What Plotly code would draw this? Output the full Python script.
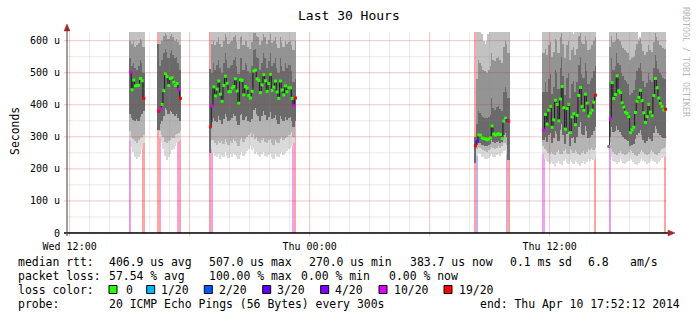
import numpy as np
import pandas as pd
import plotly.graph_objects as go

# ---------------- data (values in microseconds) ----------------
x_start = "2014-04-09 11:52:12"
x_end = "2014-04-10 17:52:12"
y_top = 627

x_tick_vals = ["2014-04-09 12:00", "2014-04-10 00:00", "2014-04-10 12:00"]
x_tick_text = ["Wed 12:00", "Thu 00:00", "Thu 12:00"]
y_tick_vals = [0, 100, 200, 300, 400, 500, 600]
y_tick_text = ["0", "100 u", "200 u", "300 u", "400 u", "500 u", "600 u"]

seg_starts = ["2014-04-09 15:00", "2014-04-09 16:25", "2014-04-09 19:00",
              "2014-04-10 08:15", "2014-04-10 11:40", "2014-04-10 14:55"]

seg1_median = [502, 447, 477, 459, 460, 461, 482, 475, 420]
seg1_loss = [10, 0, 0, 0, 0, 0, 0, 0, 19]
seg1_lo = [288, 268, 252, 238, 230, 236, 248, 262, 282]
seg1_lo2 = [318, 300, 292, 286, 282, 290, 296, 300, 305]
seg1_lo1 = [372, 360, 352, 348, 356, 350, 362, 370, 380]
seg1_hi1 = [545, 520, 530, 515, 510, 520, 540, 530, 500]
seg1_hi2 = [600, 590, 598, 580, 585, 592, 605, 600, 580]
seg1_top = [700, 700, 700, 700, 700, 700, 700, 700, 700]

seg2_median = [380, 387, 401, 444, 497, 488, 460, 482, 484, 471, 460, 466, 447, 420]
seg2_loss = [19, 10, 0, 0, 0, 0, 0, 0, 0, 0, 0, 0, 10, 19]
seg2_lo = [320, 296, 282, 262, 240, 228, 236, 246, 258, 262, 270, 280, 288, 292]
seg2_lo2 = [320, 318, 305, 298, 285, 280, 288, 290, 300, 296, 305, 310, 312, 318]
seg2_lo1 = [320, 340, 350, 365, 390, 385, 370, 380, 378, 372, 366, 372, 360, 350]
seg2_hi1 = [590, 520, 540, 560, 575, 565, 545, 560, 570, 555, 545, 550, 530, 510]
seg2_hi2 = [590, 590, 600, 615, 625, 618, 605, 615, 620, 610, 600, 605, 595, 585]
seg2_top = [590, 700, 700, 700, 700, 700, 700, 700, 700, 700, 700, 700, 700, 700]

seg3_median = [331, 396, 456, 428, 449, 474, 433, 411, 460, 489, 467, 441, 441, 452,
               457, 481, 443, 405, 478, 476, 431, 457, 452, 429, 421, 442, 505, 508,
               481, 476, 438, 462, 494, 475, 442, 466, 495, 445, 455, 474, 440, 420,
               474, 446, 431, 459, 441, 453, 453, 420, 397, 421]
seg3_loss = [19, 10] + [0] * 48 + [10, 19]
seg3_lo = [249, 262, 250, 240, 236, 248, 232, 244, 238, 252, 240, 234, 246, 238, 250,
           242, 236, 230, 244, 252, 240, 248, 256, 262, 270, 258, 266, 248, 254, 242,
           238, 246, 252, 240, 236, 244, 250, 238, 232, 246, 240, 236, 248, 254, 244,
           250, 256, 262, 266, 270, 282, 349]
seg3_lo2 = [249, 290, 290, 282, 276, 288, 280, 286, 278, 292, 284, 276, 288, 282, 294,
            286, 280, 272, 290, 296, 284, 292, 300, 306, 312, 300, 310, 294, 298, 288,
            282, 290, 296, 284, 280, 290, 294, 282, 276, 290, 284, 280, 292, 298, 290,
            296, 300, 306, 310, 316, 300, 349]
seg3_lo1 = [249, 345, 360, 350, 345, 365, 352, 340, 356, 372, 362, 350, 352, 360, 372,
            364, 350, 338, 368, 372, 352, 362, 364, 350, 345, 356, 385, 390, 372, 366,
            350, 364, 380, 368, 352, 362, 378, 356, 360, 368, 354, 340, 366, 356, 348,
            362, 352, 360, 362, 350, 330, 349]
seg3_hi1 = [512, 500, 530, 510, 525, 540, 515, 500, 530, 560, 540, 515, 520, 525, 540,
            550, 520, 495, 545, 545, 510, 530, 525, 505, 500, 520, 570, 575, 550, 545,
            510, 530, 560, 545, 515, 535, 560, 520, 530, 545, 515, 500, 545, 520, 505,
            530, 515, 525, 525, 505, 470, 480]
seg3_hi2 = [512, 590, 600, 585, 595, 610, 590, 580, 600, 620, 610, 590, 595, 600, 612,
            618, 596, 575, 610, 615, 585, 600, 598, 580, 575, 595, 625, 625, 615, 610,
            585, 600, 620, 610, 590, 602, 620, 592, 600, 612, 590, 578, 610, 595, 580,
            600, 590, 596, 598, 585, 570, 600]
seg3_top = [512] + [700] * 51

seg4_median = [272, 286, 306, 305, 297, 295, 294, 291, 293, 297, 334, 309, 305, 308,
               309, 307, 295, 349, 358, 351, 349]
seg4_loss = [19, 3, 0, 0, 0, 0, 0, 0, 0, 0, 0, 0, 0, 0, 0, 0, 0, 0, 0, 3, 19]
seg4_lo = [219, 240, 250, 245, 238, 236, 232, 230, 235, 240, 245, 238, 236, 242, 246,
           240, 250, 255, 258, 248, 228]
seg4_lo2 = [219, 262, 268, 266, 262, 258, 255, 254, 258, 262, 268, 264, 262, 266, 270,
            264, 272, 280, 282, 276, 228]
seg4_lo1 = [219, 275, 282, 280, 276, 274, 272, 270, 274, 278, 290, 284, 280, 284, 286,
            282, 284, 305, 312, 300, 228]
seg4_hi1 = [300, 340, 380, 375, 368, 362, 360, 358, 362, 368, 420, 390, 385, 392, 395,
            388, 380, 440, 455, 440, 420]
seg4_hi2 = [300, 480, 540, 530, 520, 510, 505, 500, 510, 520, 560, 540, 535, 545, 548,
            540, 530, 580, 600, 590, 560]
seg4_top = [300, 640, 700, 660, 620, 600, 590, 600, 620, 640, 700, 700, 680, 700, 660,
            640, 700, 700, 700, 700, 700]

seg5_median = [321, 370, 340, 383, 395, 330, 353, 414, 401, 350, 418, 457, 391, 324,
               388, 401, 313, 362, 372, 338, 367, 429, 454, 395, 383, 433, 405, 365,
               374, 383, 408, 430]
seg5_loss = [10] + [0] * 30 + [19]
seg5_lo = [245, 232, 226, 220, 216, 222, 214, 210, 218, 226, 214, 212, 224, 230, 218,
           214, 228, 222, 216, 226, 220, 214, 210, 218, 224, 216, 222, 230, 226, 232,
           228, 234]
seg5_lo2 = [270, 262, 256, 250, 248, 254, 246, 244, 252, 258, 248, 246, 256, 262, 250,
            248, 262, 256, 250, 258, 252, 246, 244, 250, 256, 248, 254, 262, 258, 264,
            260, 266]
seg5_lo1 = [290, 300, 285, 305, 312, 280, 296, 318, 310, 288, 322, 340, 305, 278, 308,
            315, 272, 296, 300, 282, 298, 330, 345, 310, 305, 335, 318, 296, 300, 305,
            318, 330]
seg5_hi1 = [440, 470, 440, 480, 495, 435, 455, 510, 500, 450, 515, 550, 490, 430, 485,
            500, 420, 465, 475, 440, 470, 525, 550, 495, 485, 530, 505, 465, 475, 485,
            505, 520]
seg5_hi2 = [560, 575, 555, 585, 595, 550, 565, 605, 600, 560, 610, 625, 590, 545, 585,
            600, 540, 570, 580, 555, 575, 615, 625, 595, 590, 615, 600, 570, 575, 585,
            600, 610]
seg5_top = [650, 700, 700, 680, 700, 700, 650, 700, 700, 700, 700, 700, 700, 640, 700,
            700, 700, 630, 620, 700, 700, 700, 700, 700, 680, 700, 700, 700, 700, 660,
            700, 700]

seg6_median = [270, 356, 469, 420, 432, 490, 444, 438, 406, 393, 377, 373, 363, 313,
               322, 330, 376, 411, 423, 445, 413, 375, 345, 363, 401, 377, 366, 429,
               482, 453, 421, 404, 395, 384, 386]
seg6_loss = [None, 10] + [0] * 32 + [19]
seg6_lo = [None, 272, 238, 226, 220, 215, 222, 230, 224, 218, 214, 220, 226, 232, 228,
           222, 216, 212, 218, 224, 230, 226, 220, 214, 218, 224, 230, 226, 220, 216,
           222, 228, 234, 238, 240]
seg6_lo2 = [None, 285, 262, 252, 248, 244, 250, 256, 250, 246, 242, 248, 254, 260, 256,
            250, 244, 240, 246, 252, 258, 254, 248, 242, 246, 252, 258, 254, 248, 244,
            250, 256, 262, 266, 268]
seg6_lo1 = [None, 300, 330, 315, 318, 335, 320, 316, 305, 298, 292, 290, 286, 270, 275,
            278, 292, 305, 312, 320, 306, 290, 280, 288, 300, 292, 288, 312, 335, 325,
            312, 305, 300, 296, 296]
seg6_hi1 = [None, 470, 545, 510, 520, 560, 530, 525, 500, 490, 478, 472, 465, 430, 438,
            445, 478, 505, 515, 530, 505, 475, 455, 468, 498, 478, 470, 515, 555, 535,
            512, 500, 492, 485, 480]
seg6_hi2 = [None, 580, 615, 595, 600, 625, 605, 600, 585, 578, 570, 565, 560, 540, 545,
            550, 570, 590, 598, 608, 590, 568, 555, 565, 585, 572, 566, 595, 625, 612,
            598, 588, 582, 578, 575]
seg6_top = [None, 700, 700, 700, 700, 700, 700, 700, 700, 700, 700, 700, 700, 700, 700,
            700, 700, 700, 605, 612, 700, 700, 700, 700, 700, 700, 700, 700, 700, 700,
            700, 700, 700, 700, 700]

legend_line1 = [("median rtt:", 16), ("406.9 us avg", 106.7), ("507.0 us max", 207.3),
                ("270.0 us min", 306.7), ("383.7 us now", 407.7), ("0.1 ms sd", 507.7),
                ("6.8", 586), ("am/s", 628.3)]
legend_line2 = [("packet loss:", 16), ("57.54 % avg", 107), ("100.00 % max", 207.3),
                ("0.00 % min", 299.3), ("0.00 % now", 386.7)]
legend_line4 = [("probe:", 16), ("20 ICMP Echo Pings (56 Bytes) every 300s", 107),
                ("end: Thu Apr 10 17:52:12 2014", 478.3)]
loss_labels = ["0", "1/20", "2/20", "3/20", "4/20", "10/20", "19/20"]
loss_values = [0, 1, 2, 3, 4, 10, 19]

# ---------------- styles ----------------
loss_color = {0: "#26ff00", 1: "#00b8ff", 2: "#0059ff", 3: "#5e00ff",
              4: "#7e00ff", 10: "#dd00ff", 19: "#ff0000", None: "#7f7f7f"}
loss_bar_color = {1: "#a8dcf8", 2: "#a8c0f8", 3: "#c4b0f6", 4: "#d0a8f6",
                  10: "#f0a0f0", 19: "#ffa4a4"}
band_colors = ["#dadada", "#b4b4b4", "#6a6a6a", "#949494", "#c2c2c2"]
square_pos = [109, 146.7, 204.3, 262.7, 320.7, 379, 444]
label_pos = [124, 159, 216.7, 275, 333, 391.7, 456.7]

W, H = 697, 321
PL, PR, PT, PB = 67, 667, 32, 233
MONO = "DejaVu Sans Mono"
LEG_SIZE = 11.45


def px(x):
    return (x - PL) / (PR - PL)


def py(y):
    return (PB - y) / (PB - PT)


segments = [
    (seg1_median, seg1_loss, seg1_lo, seg1_lo2, seg1_lo1, seg1_hi1, seg1_hi2, seg1_top),
    (seg2_median, seg2_loss, seg2_lo, seg2_lo2, seg2_lo1, seg2_hi1, seg2_hi2, seg2_top),
    (seg3_median, seg3_loss, seg3_lo, seg3_lo2, seg3_lo1, seg3_hi1, seg3_hi2, seg3_top),
    (seg4_median, seg4_loss, seg4_lo, seg4_lo2, seg4_lo1, seg4_hi1, seg4_hi2, seg4_top),
    (seg5_median, seg5_loss, seg5_lo, seg5_lo2, seg5_lo1, seg5_hi1, seg5_hi2, seg5_top),
    (seg6_median, seg6_loss, seg6_lo, seg6_lo2, seg6_lo1, seg6_hi1, seg6_hi2, seg6_top),
]

all_t, all_loss, all_levels = [], [], [[] for _ in range(6)]
seg_times = []
for start, seg in zip(seg_starts, segments):
    med, loss = seg[0], seg[1]
    t = pd.date_range(start, periods=len(med), freq="5min") + pd.Timedelta(minutes=2.5)
    seg_times.append(t)
    all_t.extend(list(t))
    all_loss.extend(loss)
    for k in range(6):
        all_levels[k].extend(seg[2 + k])

all_t = pd.DatetimeIndex(all_t)
levels = [np.array(v, dtype=float) for v in all_levels]
bar_w = 5 * 60 * 1000 * 1.08

fig = go.Figure()

# loss bars (full height, behind the smoke)
for lv, col in loss_bar_color.items():
    sel = [i for i, l in enumerate(all_loss) if l == lv]
    if not sel:
        continue
    fig.add_trace(go.Bar(x=all_t[sel], y=[y_top] * len(sel), base=[0] * len(sel),
                         width=bar_w, marker=dict(color=col, line=dict(width=0)),
                         showlegend=False, hoverinfo="skip"))

# smoke bands
for k in range(5):
    lo, hi = levels[k], levels[k + 1]
    fig.add_trace(go.Bar(x=all_t, y=hi - lo, base=lo, width=bar_w,
                         marker=dict(color=band_colors[k], line=dict(width=0)),
                         showlegend=False, hoverinfo="skip"))

# median line and loss-coloured points
for t, seg in zip(seg_times, segments):
    med, loss = seg[0], seg[1]
    fig.add_trace(go.Scatter(x=t, y=med, mode="lines", line=dict(color="#1a1a1a", width=1, shape="hvh"),
                             showlegend=False, hoverinfo="skip"))
    fig.add_trace(go.Scatter(x=t, y=med, mode="markers",
                             marker=dict(symbol="square", size=3, color=[loss_color[l] for l in loss],
                                         line=dict(width=0)),
                             showlegend=False, hoverinfo="skip"))

shapes = []
MAJ = "rgba(200,40,40,0.26)"
MIN = "rgba(140,140,140,0.18)"
# grid lines (drawn above the smoke, like rrdtool)
for v in range(0, 651, 50):
    if v > y_top:
        break
    major = v % 100 == 0
    shapes.append(dict(type="line", xref="paper", yref="y", x0=px(64) if major else 0, x1=1, y0=v, y1=v,
                       line=dict(color=MAJ if major else MIN, width=1), layer="above"))
for h in pd.date_range("2014-04-09 12:00", "2014-04-10 17:00", freq="1h"):
    major = h.hour % 6 == 0
    shapes.append(dict(type="line", xref="x", yref="paper", x0=h, x1=h, y0=py(236) if major else 0, y1=1,
                       line=dict(color=MAJ if major else MIN, width=1), layer="above"))

# axes with arrows
shapes.append(dict(type="line", xref="paper", yref="paper", x0=px(64), x1=px(670), y0=0, y1=0,
                   line=dict(color="#000000", width=1.5), layer="above"))
shapes.append(dict(type="line", xref="paper", yref="paper", x0=0, x1=0, y0=py(236), y1=py(29),
                   line=dict(color="#404040", width=1), layer="above"))
shapes.append(dict(type="path", xref="paper", yref="paper",
                   path=f"M {px(668)} {py(230)} L {px(675)} {py(233)} L {px(668)} {py(236)} Z",
                   fillcolor="#a02828", line=dict(color="#a02828", width=0.5), layer="above"))
shapes.append(dict(type="path", xref="paper", yref="paper",
                   path=f"M {px(64)} {py(31)} L {px(67)} {py(24)} L {px(70)} {py(31)} Z",
                   fillcolor="#a02828", line=dict(color="#a02828", width=0.5), layer="above"))

# legend squares
for xs, lv in zip(square_pos, loss_values):
    shapes.append(dict(type="rect", xref="paper", yref="paper",
                       x0=px(xs), x1=px(xs + 8), y0=py(293.5), y1=py(285.5),
                       fillcolor=loss_color[lv], line=dict(color="#000000", width=1)))

annotations = []


def text(s, x, y, size=LEG_SIZE, anchor="left", color="#000000", angle=0, family=MONO):
    annotations.append(dict(text=s, x=px(x), y=py(y), xref="paper", yref="paper",
                            xanchor=anchor, yanchor="middle", showarrow=False,
                            textangle=angle, font=dict(family=family, size=size, color=color)))


text("Last 30 Hours", 348.5, 15, size=13, anchor="center")
text("Seconds", 15, 131, size=LEG_SIZE, anchor="center", angle=-90)
text("RRDTOOL / TOBI OETIKER", 686, 62, size=8.3, anchor="center", angle=90, color="#b8b8b8")
for s, x in legend_line1:
    text(s, x, 261.5)
for s, x in legend_line2:
    text(s, x, 275.5)
text("loss color:", 16, 289.5)
for s, x in zip(loss_labels, label_pos):
    text(s, x, 289.5)
for s, x in legend_line4:
    text(s, x, 303.5)

fig.update_layout(
    width=W, height=H, margin=dict(l=PL, r=W - PR, t=PT, b=H - PB, pad=0),
    paper_bgcolor="#ffffff", plot_bgcolor="#ffffff",
    barmode="overlay", bargap=0, showlegend=False,
    shapes=shapes, annotations=annotations,
    xaxis=dict(type="date", range=[x_start, x_end], tickvals=x_tick_vals, ticktext=x_tick_text,
               showgrid=False, zeroline=False, showline=False, ticks="",
               tickfont=dict(family=MONO, size=10, color="#000000"), ticklabelstandoff=6),
    yaxis=dict(range=[0, y_top], tickvals=y_tick_vals, ticktext=y_tick_text,
               showgrid=False, zeroline=False, showline=False, ticks="",
               tickfont=dict(family=MONO, size=10, color="#000000"), ticklabelstandoff=6),
)

fig.write_html("out.html")
